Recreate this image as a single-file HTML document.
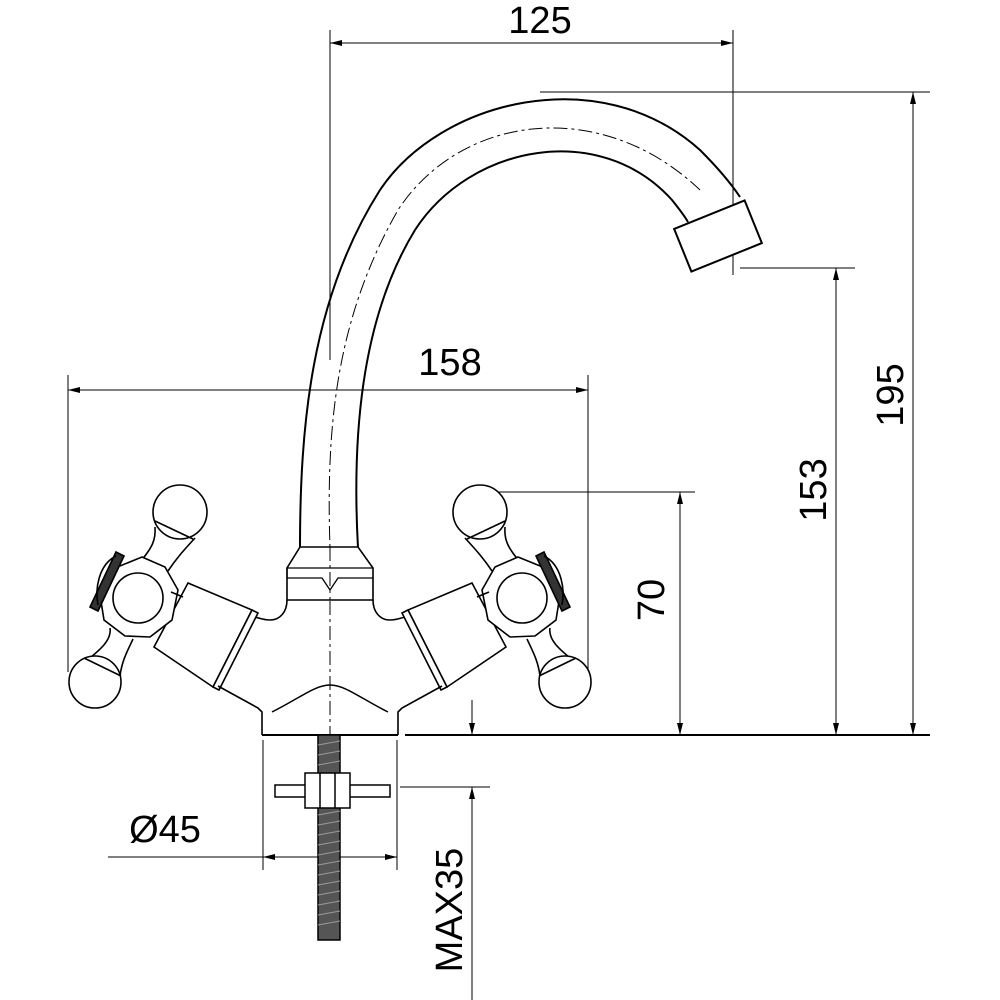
<!DOCTYPE html>
<html><head><meta charset="utf-8"><style>html,body{margin:0;padding:0;background:#fff}svg{display:block}</style></head>
<body>
<svg width="1000" height="1000" viewBox="0 0 1000 1000" xmlns="http://www.w3.org/2000/svg" font-family="Liberation Sans, sans-serif" fill="none" stroke="#000" stroke-width="1.5">
<defs>
<marker id="a" viewBox="0 0 12 6" refX="12" refY="3" markerWidth="12" markerHeight="6" orient="auto-start-reverse" markerUnits="userSpaceOnUse"><path d="M0,0L12,3L0,6z" fill="#000" stroke="none"/></marker>
<g id="h" stroke-width="1.6">
 <!-- valve body -->
 <path d="M253,617 C240,612 232,612 225,612"/>
 <polygon points="188,583 252,610 213,687 154,647" fill="#fff"/>
 <polygon points="252,610 258,613 219,690 213,687" fill="#fff"/>
 <path d="M218,686 L258,708 L262,712 L262,735"/>
 <!-- arms -->
 <path d="M140,562 C152,548 156,540 155,527" fill="#fff"/>
 <path d="M168,571 C178,556 186,548 195,538" fill="#fff"/>
 <circle cx="180" cy="512" r="27" fill="#fff"/>
 <line x1="155" y1="521" x2="193" y2="539"/>
 <path d="M110,628 C112,640 100,650 85,662" />
 <path d="M133,639 C128,650 122,660 120,676"/>
 <circle cx="95" cy="682" r="26" fill="#fff"/>
 <line x1="84" y1="658" x2="121" y2="676"/>
 <!-- hub -->
 <polygon points="142,557 165,567 178,590 172,620 150,637 125,636 104,620 100,595 110,570" fill="#fff"/>
 <circle cx="138" cy="598" r="25" fill="#fff"/>
 <line x1="171" y1="592" x2="183" y2="597" />
 <polygon points="116,552 124,556 98,611 90,607" fill="#333"/>
 <path d="M116,556 C98,565 95,590 98,605"/>
</g>
</defs>
<!-- dimension lines -->
<g stroke-width="1">
<line x1="330" y1="30" x2="330" y2="360"/>
<line x1="733" y1="30" x2="733" y2="275"/>
<line x1="330" y1="43" x2="733" y2="43" marker-start="url(#a)" marker-end="url(#a)"/>
<line x1="540" y1="92" x2="930" y2="92"/>
<line x1="913" y1="92" x2="913" y2="735" marker-start="url(#a)" marker-end="url(#a)"/>
<line x1="740" y1="268" x2="855" y2="268"/>
<line x1="836" y1="268" x2="836" y2="735" marker-start="url(#a)" marker-end="url(#a)"/>
<line x1="495" y1="492" x2="695" y2="492"/>
<line x1="680" y1="492" x2="680" y2="735" marker-start="url(#a)" marker-end="url(#a)"/>
<line x1="68" y1="375" x2="68" y2="672"/>
<line x1="588" y1="375" x2="588" y2="672"/>
<line x1="68" y1="390" x2="588" y2="390" marker-start="url(#a)" marker-end="url(#a)"/>
<line x1="263" y1="740" x2="263" y2="870"/>
<line x1="397" y1="740" x2="397" y2="870"/>
<line x1="108" y1="857" x2="397" y2="857"/>
<line x1="263" y1="857" x2="397" y2="857" marker-start="url(#a)" marker-end="url(#a)"/>
<line x1="400" y1="787" x2="490" y2="787"/>
<line x1="472" y1="700" x2="472" y2="735" marker-end="url(#a)"/>
<line x1="472" y1="787" x2="472" y2="1000" marker-start="url(#a)"/>
</g>
<line x1="405" y1="735" x2="930" y2="735" stroke-width="2"/>
<!-- labels -->
<g fill="#000" stroke="none" font-size="38">
<text x="540" y="33" text-anchor="middle">125</text>
<text x="450" y="375" text-anchor="middle">158</text>
<text x="165" y="842" text-anchor="middle">Ø45</text>
<text transform="translate(903,395) rotate(-90)" text-anchor="middle">195</text>
<text transform="translate(826,490) rotate(-90)" text-anchor="middle">153</text>
<text transform="translate(664,600) rotate(-90)" text-anchor="middle">70</text>
<text transform="translate(462,910) rotate(-90)" text-anchor="middle">MAX35</text>
</g>
<!-- spout -->
<path d="M300,548 C300,430 310,300 380,190 C440,100 600,60 700,150 C720,170 732,185 740,197" stroke-width="2"/>
<path d="M358,548 C352,440 360,320 415,230 C470,145 600,120 672,200 C680,210 684,215 688,222" stroke-width="2"/>
<path d="M330,740 L330,548 C326,430 335,320 398,210 C460,115 600,95 700,190" stroke-width="1" stroke-dasharray="14,4,3,4"/>
<g transform="rotate(-22 718 236)"><rect x="680" y="213" width="76" height="46" fill="#fff" stroke-width="2"/></g>
<!-- body -->
<path d="M272,712 C300,698 315,685 330,685 C345,685 360,698 388,712" stroke-width="1.5"/>
<line x1="262" y1="735" x2="398" y2="735" stroke-width="2"/>
<!-- collar -->
<path d="M300,547 L358,547 L373,568 L373,600 L287,600 L287,568 Z" fill="#fff" stroke-width="1.6"/>
<path d="M287,568 L373,568 M287,568 L287,578 M330,590 L322,578 L287,578 M330,590 L338,578 L373,578" stroke-width="1.3"/>
<line x1="330" y1="547" x2="330" y2="600" stroke-width="1" stroke-dasharray="14,4,3,4"/>
<path d="M287,600 C287,612 280,620 270,620 C262,620 258,617 253,617" stroke-width="1.6"/>
<path d="M373,600 C373,612 380,620 390,620 C398,620 402,617 407,617" stroke-width="1.6"/>
<use href="#h"/>
<use href="#h" transform="matrix(-1,0,0,1,660,0)"/>
<!-- threaded rod, washer, nut -->
<rect x="318" y="735" width="22" height="205" fill="#555" stroke-width="1.5"/>
<g stroke="#999" stroke-width="1"><path d="M318,745 L340,741 M318,755 L340,751 M318,765 L340,761 M318,815 L340,811 M318,825 L340,821 M318,835 L340,831 M318,845 L340,841 M318,855 L340,851 M318,865 L340,861 M318,875 L340,871 M318,885 L340,881 M318,895 L340,891 M318,905 L340,901 M318,915 L340,911 M318,925 L340,921"/></g>
<rect x="275" y="785" width="115" height="12" fill="#fff" stroke-width="1.5"/>
<rect x="305" y="773" width="45" height="35" fill="#fff" stroke-width="1.5"/>
<line x1="320" y1="773" x2="320" y2="808"/><line x1="335" y1="773" x2="335" y2="808"/>
</svg>
</body></html>
